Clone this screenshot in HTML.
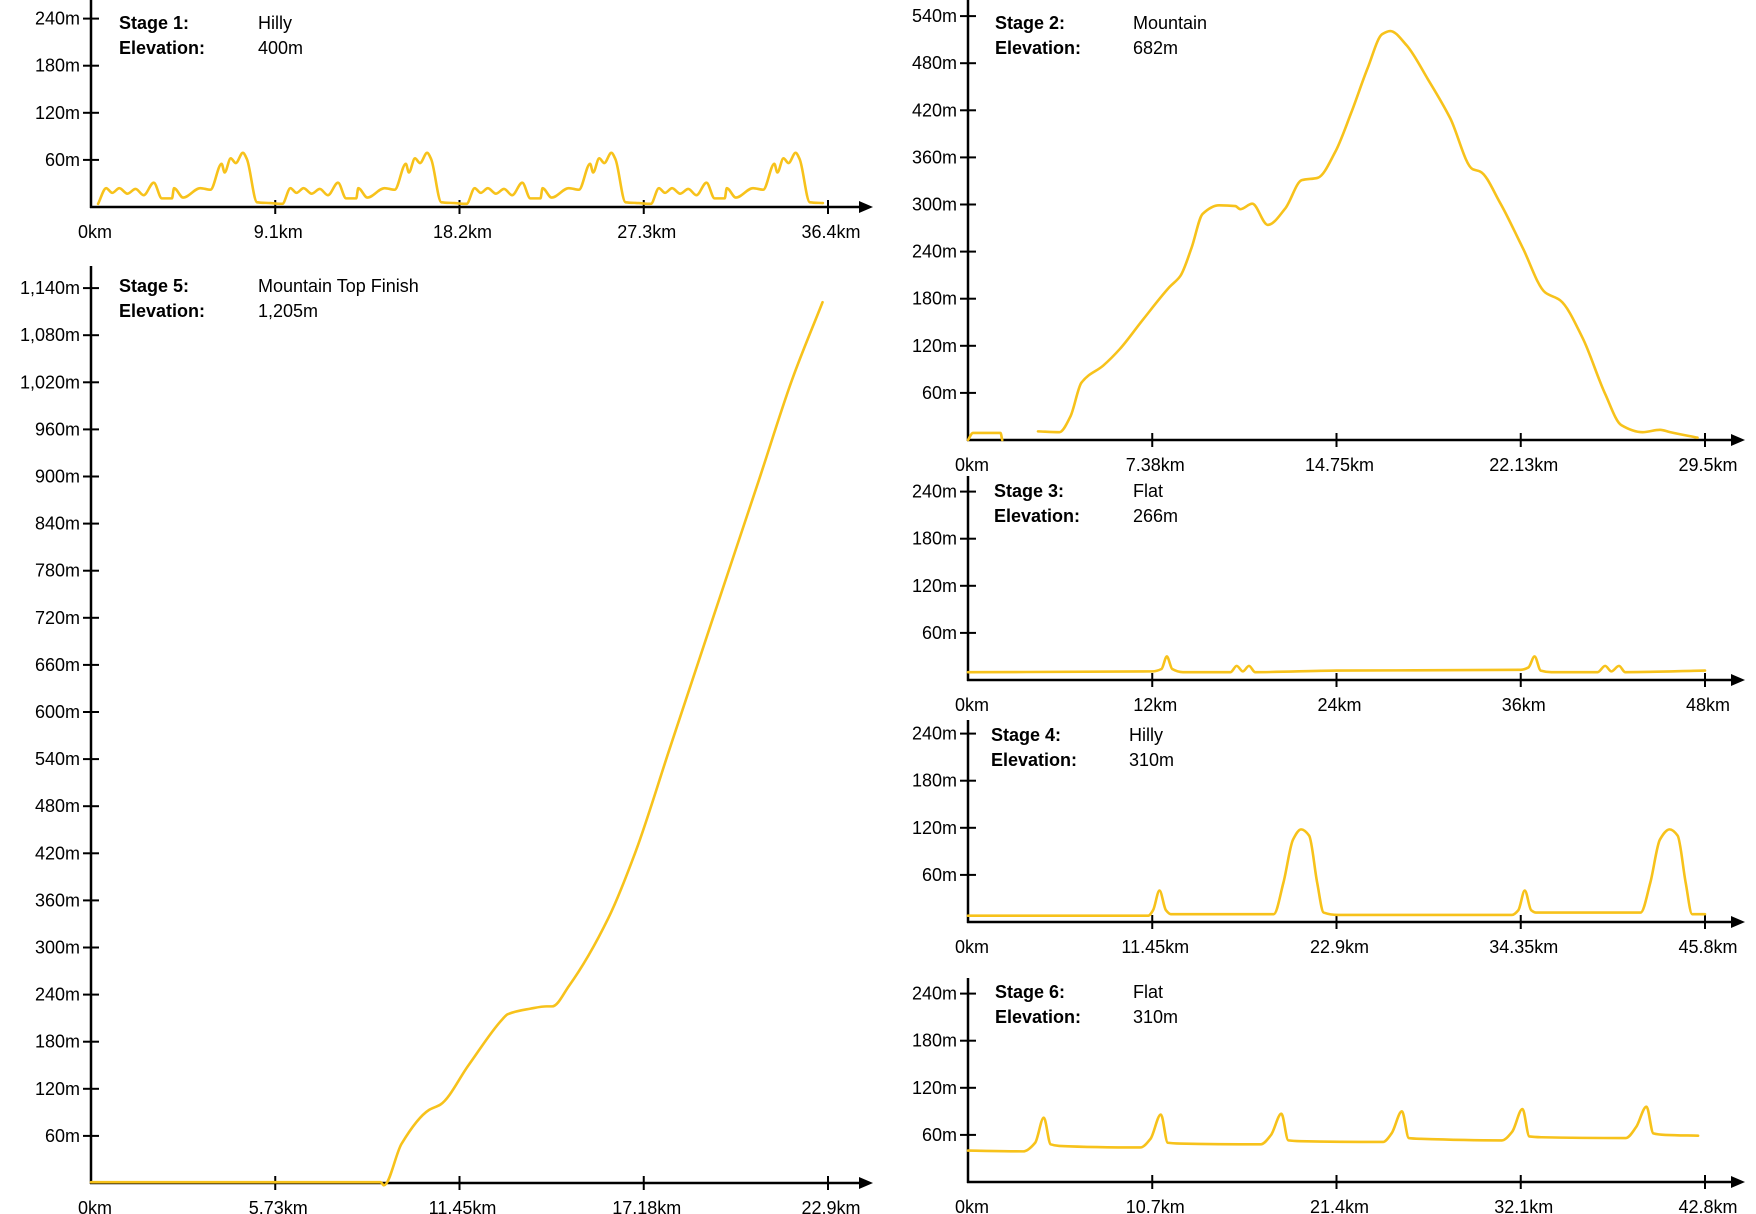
<!DOCTYPE html>
<html><head><meta charset="utf-8"><style>
html,body{margin:0;padding:0;background:#fff;}
svg{display:block;font-family:"Liberation Sans",Arial,sans-serif;}
</style></head><body>
<svg id="c" width="1756" height="1214" viewBox="0 0 1756 1214"></svg>
<script>
// ---- data ----
const s1Km=[0.35,0.75,1.05,1.4,1.8,2.2,2.6,3.1,3.5,4.0,4.1,4.55,5.4,5.9,6.45,6.6,6.9,7.15,7.5,7.7,8.2,8.85,
9.45,9.85,10.15,10.5,10.9,11.3,11.7,12.2,12.6,13.1,13.2,13.65,14.5,15.0,15.55,15.7,16.0,16.25,16.6,16.8,17.3,17.95,
18.55,18.95,19.25,19.6,20.0,20.4,20.8,21.3,21.7,22.2,22.3,22.75,23.6,24.1,24.65,24.8,25.1,25.35,25.7,25.9,26.4,27.05,
27.65,28.05,28.35,28.7,29.1,29.5,29.9,30.4,30.8,31.3,31.4,31.85,32.7,33.2,33.75,33.9,34.2,34.45,34.8,35.0,35.5,36.15];
const s1M=[4,24,18,24,17,23,15,31,11,11,24,12,24,22,55,44,62,56,69,61,6,5,
4,24,18,24,17,23,15,31,11,11,24,12,24,22,55,44,62,56,69,61,6,5,
4,24,18,24,17,23,15,31,11,11,24,12,24,22,55,44,62,56,69,61,6,5,
4,24,18,24,17,23,15,31,11,11,24,12,24,22,55,44,62,56,69,61,6,5];
const s1Ticks=["0km","9.1km","18.2km","27.3km","36.4km"];

const s2Km=[0,0.2,1.3,1.37,2.7,2.8,3.66,4.1,4.54,5.42,6.08,6.97,8.07,8.5,8.95,9.39,10.05,10.7,10.9,11.38,12.0,12.7,13.36,14.0,14.7,15.34,16.0,16.58,16.9,17.55,18.4,19.3,20.2,20.5,21.3,22.2,23.1,23.7,24.6,25.5,26.15,27.0,27.7,28.1,29.2];
const s2M=[0,9,9,0,null,11,10,30,73,95,116,152,195,209,245,288,299,298,294,301,274,295,331,334,367,417,474,517,521,503,460,410,345,342,302,245,188,178,130,59,19,10,13,10,3];
const s2Ticks=["0km","7.38km","14.75km","22.13km","29.5km"];

const s3Km=[0,12.0,12.6,12.95,13.3,14,17.1,17.5,17.9,18.3,18.7,24,36,36.5,36.9,37.3,38,41,41.5,41.9,42.4,42.8,48];
const s3M=[10,11,14,30,14,10,10,18,11,18,10,12,13,16,30,12,10,10,18,11,18,10,12];
const s3Ticks=["0km","12km","24km","36km","48km"];

const s4Km=[0,11.2,11.5,11.9,12.3,12.6,19.0,19.6,20.2,20.7,21.2,21.7,22.1,23,33.8,34.2,34.6,35.0,35.3,41.8,42.4,43.0,43.6,44.1,44.6,45.0,45.8];
const s4M=[8,8,15,40,15,10,10,50,105,118,110,50,12,9,9,15,40,15,12,12,50,105,118,110,50,10,10];
const s4Ticks=["0km","11.45km","22.9km","34.35km","45.8km"];

const s5Km=[0,9.0,9.1,9.65,10.5,10.86,11.73,12.77,12.95,13.64,14.16,14.33,14.85,16.07,16.93,17.97,19.36,20.75,21.79,22.73];
const s5M=[1,1,-3,50,93,100,150,208,215,222,225,225,251,337,423,552,724,895,1024,1122];
const s5Ticks=["0km","5.73km","11.45km","17.18km","22.9km"];

const s6Km=[0,3.2,3.9,4.4,4.8,5.3,10.0,10.6,11.2,11.6,12.3,17.0,17.6,18.2,18.6,19.3,24.1,24.6,25.2,25.6,26.3,31.0,31.6,32.2,32.6,33.3,38.2,38.8,39.4,39.8,40.5,42.4];
const s6M=[40,39,50,82,48,46,44,55,86,50,49,48,60,87,53,52,51,62,90,56,55,53,64,93,58,57,56,70,96,62,60,59];
const s6Ticks=["0km","10.7km","21.4km","32.1km","42.8km"];

// ---- drawing ----
const NS="http://www.w3.org/2000/svg";
const svg=document.getElementById('c');
function mk(tag,attrs,parent){const e=document.createElementNS(NS,tag);for(const k in attrs)e.setAttribute(k,attrs[k]);(parent||svg).appendChild(e);return e;}
function fmt(v){return v.toLocaleString('en-US')+'m';}

// monotone cubic path (no overshoot)
function monoPath(p){
  const n=p.length;
  if(n<2) return '';
  const dx=[],s=[];
  for(let i=0;i<n-1;i++){dx[i]=p[i+1][0]-p[i][0];s[i]=(p[i+1][1]-p[i][1])/(dx[i]||1e-6);}
  const t=[];
  t[0]=s[0];t[n-1]=s[n-2];
  for(let i=1;i<n-1;i++){
    if(s[i-1]*s[i]<=0) t[i]=0;
    else{const w1=2*dx[i]+dx[i-1],w2=dx[i]+2*dx[i-1];t[i]=(w1+w2)/(w1/s[i-1]+w2/s[i]);}
  }
  let d=`M${p[0][0]},${p[0][1]}`;
  for(let i=0;i<n-1;i++){
    const h=dx[i]/3;
    d+=` C${p[i][0]+h},${p[i][1]+t[i]*h} ${p[i+1][0]-h},${p[i+1][1]-t[i+1]*h} ${p[i+1][0]},${p[i+1][1]}`;
  }
  return d;
}

function chart(o,name,km,m,ticks){
  const g=mk('g',{});
  
  
  const xs=v=>o.x0+(v/o.kmMax)*(o.x1-o.x0);
  const ys=v=>o.y0-v*o.ppm;
  const ya=mk('line',{x1:o.x0,y1:o.yTop,x2:o.x0,y2:o.y0+1,stroke:'#000','stroke-width':2.5},g);
  
  
  for(let v=60;v<=o.yMax;v+=60){
    const y=ys(v);
    mk('line',{x1:o.x0-8,y1:y,x2:o.x0+8,y2:y,stroke:'#000','stroke-width':2},g);
    const t=mk('text',{x:o.x0-11,y:y+6,'text-anchor':'end','font-size':18,fill:'#000'},g);
    t.textContent=fmt(v);
    
    
  }
  const xa=mk('line',{x1:o.x0-1,y1:o.y0,x2:o.arrow-10,y2:o.y0,stroke:'#000','stroke-width':2.5},g);
  
  
  const ar=mk('polygon',{points:`${o.arrow},${o.y0} ${o.arrow-14},${o.y0-6} ${o.arrow-14},${o.y0+6}`,fill:'#000'},g);
  
  
  ticks.forEach((lab,i)=>{
    const x=o.x0+i*(o.x1-o.x0)/(ticks.length-1);
    if(i>0) mk('line',{x1:x,y1:o.y0-7,x2:x,y2:o.y0+7,stroke:'#000','stroke-width':2},g);
    const t=mk('text',{x:x+(i===0?4:3),y:o.y0+31,'text-anchor':'middle','font-size':18,fill:'#000'},g);
    t.textContent=lab;
    
    
  });
  const l1=mk('text',{x:o.lx,y:o.ly,'font-size':18,'font-weight':'bold',fill:'#000'},g);l1.textContent=o.stage;
  
  
  const l2=mk('text',{x:o.vx,y:o.ly,'font-size':18,fill:'#000'},g);l2.textContent=o.type;
  
  
  const l3=mk('text',{x:o.lx,y:o.ly+25,'font-size':18,'font-weight':'bold',fill:'#000'},g);l3.textContent='Elevation:';
  
  
  const l4=mk('text',{x:o.vx,y:o.ly+25,'font-size':18,fill:'#000'},g);l4.textContent=o.elev;
  
  
  let segs=[],cur=[];
  km.forEach((k,i)=>{ if(m[i]===null){if(cur.length)segs.push(cur);cur=[];} else cur.push([xs(k),ys(m[i])]); });
  if(cur.length)segs.push(cur);
  segs.forEach(p=>{
    const pa=mk('path',{d:monoPath(p),fill:'none',stroke:'#F7C21B','stroke-width':2.6,'stroke-linejoin':'round','stroke-linecap':'round'},g);
    
    
  });
}
const PPM=47.1/60;
chart({x0:91,x1:828,arrow:873,y0:207,yTop:0,yMax:240,kmMax:36.4,ppm:PPM,lx:119,vx:258,ly:29,stage:'Stage 1:',type:'Hilly',elev:'400m'},'stage-1-chart',s1Km,s1M,s1Ticks);
chart({x0:91,x1:828,arrow:873,y0:1183,yTop:266,yMax:1140,kmMax:22.9,ppm:PPM,lx:119,vx:258,ly:292,stage:'Stage 5:',type:'Mountain Top Finish',elev:'1,205m'},'stage-5-chart',s5Km,s5M,s5Ticks);
chart({x0:968,x1:1705,arrow:1745,y0:440,yTop:0,yMax:540,kmMax:29.5,ppm:PPM,lx:995,vx:1133,ly:29,stage:'Stage 2:',type:'Mountain',elev:'682m'},'stage-2-chart',s2Km,s2M,s2Ticks);
chart({x0:968,x1:1705,arrow:1745,y0:680,yTop:476,yMax:240,kmMax:48,ppm:PPM,lx:994,vx:1133,ly:497,stage:'Stage 3:',type:'Flat',elev:'266m'},'stage-3-chart',s3Km,s3M,s3Ticks);
chart({x0:968,x1:1705,arrow:1745,y0:922,yTop:720,yMax:240,kmMax:45.8,ppm:PPM,lx:991,vx:1129,ly:741,stage:'Stage 4:',type:'Hilly',elev:'310m'},'stage-4-chart',s4Km,s4M,s4Ticks);
chart({x0:968,x1:1705,arrow:1745,y0:1182,yTop:978,yMax:240,kmMax:42.8,ppm:PPM,lx:995,vx:1133,ly:998,stage:'Stage 6:',type:'Flat',elev:'310m'},'stage-6-chart',s6Km,s6M,s6Ticks);
</script>
</body></html>
